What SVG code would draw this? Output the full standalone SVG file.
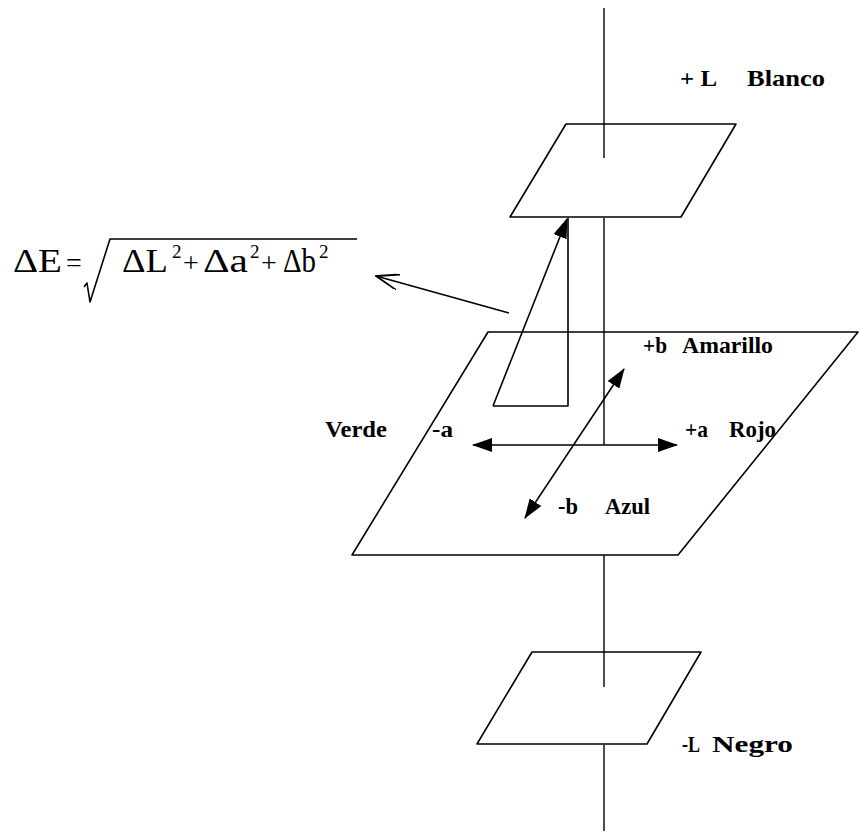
<svg xmlns="http://www.w3.org/2000/svg" width="860" height="839" viewBox="0 0 860 839">
<style>
.ln{fill:none;stroke:#000;stroke-width:1.6;stroke-linejoin:round}
.ax{fill:none;stroke:#000;stroke-width:1.4}
.lb{font-family:"Liberation Serif","Times New Roman",serif;font-size:23px;font-weight:bold;fill:#000}
.fm{font-family:"Liberation Serif","Times New Roman",serif;font-size:33px;fill:#000}
.op{font-family:"Liberation Serif","Times New Roman",serif;font-size:28px;fill:#000}
.sp{font-family:"Liberation Serif","Times New Roman",serif;font-size:19px;fill:#000}
</style>
<defs>
<marker id="fa" viewBox="0 0 20 14" refX="19" refY="7" markerWidth="20" markerHeight="14" markerUnits="userSpaceOnUse" orient="auto-start-reverse">
<path d="M0,0 L20,7 L0,14 Z" fill="#000"/>
</marker>
<marker id="oa" viewBox="0 0 24 16" refX="23" refY="8" markerWidth="24" markerHeight="16" markerUnits="userSpaceOnUse" orient="auto">
<path d="M0,0 L23,8 L0,16" fill="none" stroke="#000" stroke-width="1.8"/>
</marker>
</defs>
<g id="axis-L">
<line class="ax" x1="604" y1="8" x2="604" y2="158"/>
<line class="ax" x1="604" y1="218" x2="604" y2="445"/>
<line class="ax" x1="604" y1="555" x2="604" y2="687"/>
<line class="ax" x1="604" y1="745" x2="604" y2="831"/>
</g>
<g id="plane-top">
<polygon class="ln" points="566,124 736,124 681,217 510,217"/>
</g>
<g id="plane-mid">
<polygon class="ln" points="488,332 858,332 678,555 352,555"/>
</g>
<g id="plane-bottom">
<polygon class="ln" points="532,652 701,652 647,744 477,744"/>
</g>
<g id="connectors">
<polyline class="ln" points="568,218 568,406 493,406"/>
<line class="ln" x1="493" y1="406" x2="567" y2="219" marker-end="url(#fa)"/>
<line class="ln" x1="509" y1="313" x2="376" y2="276" marker-end="url(#oa)"/>
<line class="ln" x1="473" y1="445" x2="677" y2="445" marker-start="url(#fa)" marker-end="url(#fa)"/>
<line class="ln" x1="525" y1="518" x2="624" y2="369" marker-start="url(#fa)" marker-end="url(#fa)"/>
</g>
<g id="formula">
<text class="fm" x="13" y="272" textLength="49" lengthAdjust="spacingAndGlyphs">ΔE</text>
<text class="op" x="66" y="272">=</text>
<path class="ln" d="M84,287 L87,283 L90,302 L110,239 L357,239"/>
<text class="fm" x="122" y="272" textLength="46" lengthAdjust="spacingAndGlyphs">ΔL</text>
<text class="sp" x="172" y="258">2</text>
<text class="op" x="183" y="272">+</text>
<text class="fm" x="203" y="272" textLength="45" lengthAdjust="spacingAndGlyphs">Δa</text>
<text class="sp" x="250" y="258">2</text>
<text class="op" x="261" y="272">+</text>
<text class="fm" x="283" y="272" textLength="33" lengthAdjust="spacingAndGlyphs">Δb</text>
<text class="sp" x="319" y="258">2</text>
</g>
<g id="label-blanco">
<text class="lb" x="680" y="86" textLength="37" lengthAdjust="spacingAndGlyphs">+ L</text>
<text class="lb" x="747" y="86" textLength="78" lengthAdjust="spacingAndGlyphs">Blanco</text>
</g>
<g id="label-amarillo">
<text class="lb" x="643" y="353" textLength="24" lengthAdjust="spacingAndGlyphs">+b</text>
<text class="lb" x="682" y="353" textLength="91" lengthAdjust="spacingAndGlyphs">Amarillo</text>
</g>
<g id="label-verde">
<text class="lb" x="325" y="437" textLength="62" lengthAdjust="spacingAndGlyphs">Verde</text>
<text class="lb" x="432" y="437" textLength="21" lengthAdjust="spacingAndGlyphs">-a</text>
</g>
<g id="label-rojo">
<text class="lb" x="685" y="437" textLength="23" lengthAdjust="spacingAndGlyphs">+a</text>
<text class="lb" x="729" y="437" textLength="47" lengthAdjust="spacingAndGlyphs">Rojo</text>
</g>
<g id="label-azul">
<text class="lb" x="558" y="514" textLength="20" lengthAdjust="spacingAndGlyphs">-b</text>
<text class="lb" x="605" y="514" textLength="45" lengthAdjust="spacingAndGlyphs">Azul</text>
</g>
<g id="label-negro">
<text class="lb" x="682" y="752" textLength="18" lengthAdjust="spacingAndGlyphs">-L</text>
<text class="lb" x="712" y="752" textLength="81" lengthAdjust="spacingAndGlyphs">Negro</text>
</g>
</svg>
